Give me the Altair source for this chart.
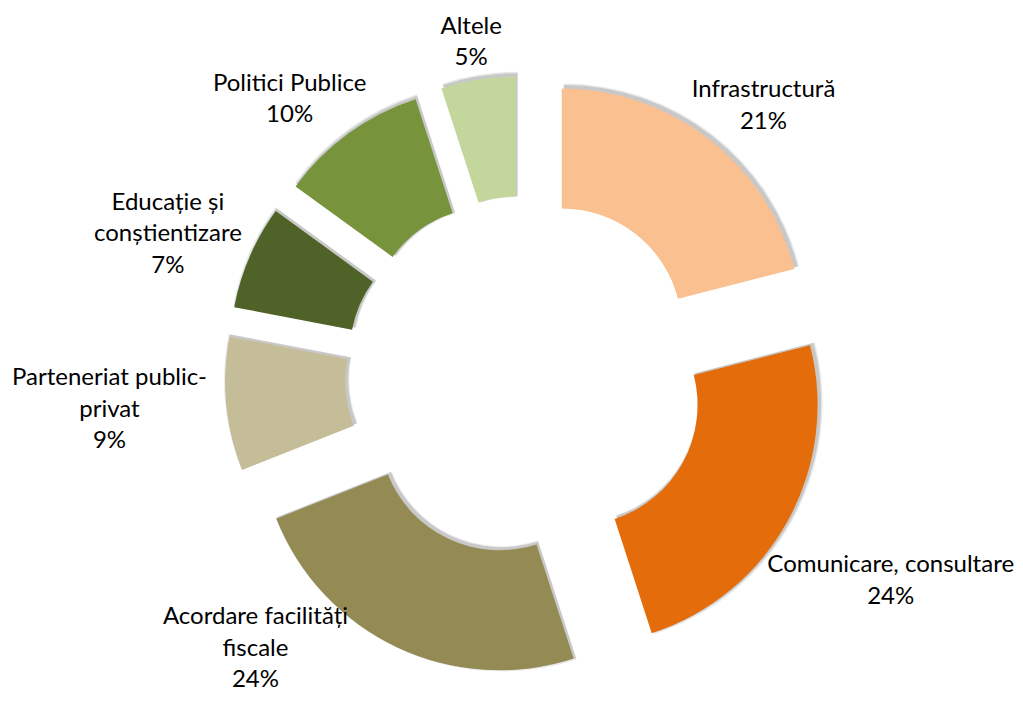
import math
import altair as alt
import pandas as pd

# ---- data ----
categories = [
    "Infrastructură",
    "Comunicare, consultare",
    "Acordare facilități fiscale",
    "Parteneriat public-privat",
    "Educație și conștientizare",
    "Politici Publice",
    "Altele",
]
label_lines = [
    ["Infrastructură"],
    ["Comunicare, consultare"],
    ["Acordare facilități", "fiscale"],
    ["Parteneriat public-", "privat"],
    ["Educație și", "conștientizare"],
    ["Politici Publice"],
    ["Altele"],
]
values = [21, 24, 24, 9, 7, 10, 5]
colors = ["#FAC090", "#E46C0A", "#948A54", "#C4BD97", "#4F6228", "#77933C", "#C3D69B"]

# ---- layout ----
W, H = 1007, 686
CX, CY = W / 2 + 13.5, H / 2 + 25
R_OUT, R_IN = 240, 120
EXPLODE = 60
LABEL_DIST = R_OUT + EXPLODE + 10
FONT_SIZE = 24
CHAR_W = 11.3
LINE_H = 31.5
FONT = "Lato"
BOTTOM = H + 2   # lowest pixel a label block may reach (plot coords)
TOP = 3          # highest pixel a label block may reach (plot coords)


def clamp(v, lo, hi):
    return max(lo, min(hi, v))


def hits_slice(lx, ly, text, cx, cy):
    """True if any text line's box overlaps the slice's outer circle."""
    n = len(text)
    for i, t in enumerate(text):
        yc = ly + (i - (n - 1) / 2) * LINE_H
        hwl = len(t) * CHAR_W / 2
        px = clamp(cx, lx - hwl, lx + hwl)
        py = clamp(cy, yc - FONT_SIZE / 2, yc + FONT_SIZE / 2)
        if math.hypot(px - cx, py - cy) < R_OUT:
            return True
    return False


total = sum(values)
rows = []
acc = 0.0
for cat, lines, v, col in zip(categories, label_lines, values, colors):
    t0 = acc / total * 2 * math.pi
    acc += v
    t1 = acc / total * 2 * math.pi
    mid = (t0 + t1) / 2
    s, c = math.sin(mid), -math.cos(mid)
    cx = CX + EXPLODE * s
    cy = CY + EXPLODE * c
    text = lines + [f"{v}%"]
    hw = max(len(t) for t in text) * CHAR_W / 2
    hh = len(text) * LINE_H / 2
    # label centre pushed outward by its half extents
    lx = clamp(CX + (LABEL_DIST + hw) * s, hw - 8, W - hw)
    ly = CY + (LABEL_DIST + hh) * c
    # push outward along the slice direction until the text clears the slice
    for _ in range(300):
        if not hits_slice(lx, ly, text, cx, cy):
            break
        lx = clamp(lx + s, hw - 8, W - hw)
        ly += c
    if ly + hh > BOTTOM:
        # slide the label along its orbit until it fits above the bottom edge
        cos_phi = (BOTTOM - hh - CY) / (LABEL_DIST + hh)
        phi = math.acos(clamp(cos_phi, -1, 1))
        sgn = 1 if s >= 0 else -1
        lx = CX + sgn * (LABEL_DIST + hw) * math.sin(phi)
        ly = BOTTOM - hh
    ly = max(ly, TOP + hh)
    lx = clamp(lx, hw - 8, W - hw)
    # Vega draws the first line at y: shift so the block is centred on ly
    ly_first = ly - (len(text) - 1) * LINE_H / 2
    rows.append(dict(cat=cat, value=v, t0=t0, t1=t1, cx=cx, cy=cy,
                     sx=cx + 2, sy=cy - 2, lx=lx, ly=ly_first, text=text))

df = pd.DataFrame(rows)

base = alt.Chart(df)

theta_enc = dict(theta=alt.Theta("t0:Q", scale=None), theta2="t1:Q")

shadow1 = base.mark_arc(radius=R_OUT + 3, radius2=R_IN - 2, color="#808080", opacity=0.18).encode(
    **theta_enc,
    x=alt.X("sx:Q", scale=None, axis=None),
    y=alt.Y("sy:Q", scale=None, axis=None),
)
shadow2 = base.mark_arc(radius=R_OUT + 1.5, radius2=R_IN - 1, color="#666666", opacity=0.25).encode(
    **theta_enc,
    x=alt.X("sx:Q", scale=None, axis=None),
    y=alt.Y("sy:Q", scale=None, axis=None),
)

arcs = base.mark_arc(radius=R_OUT, radius2=R_IN).encode(
    **theta_enc,
    x=alt.X("cx:Q", scale=None, axis=None),
    y=alt.Y("cy:Q", scale=None, axis=None),
    color=alt.Color("cat:N", scale=alt.Scale(domain=categories, range=colors), legend=None),
)

labels = base.mark_text(font=FONT, fontSize=FONT_SIZE, lineHeight=LINE_H, align="center",
                        baseline="middle", color="#000000").encode(
    x=alt.X("lx:Q", scale=None, axis=None),
    y=alt.Y("ly:Q", scale=None, axis=None),
    text="text:N",
)

chart = (
    alt.layer(shadow1, shadow2, arcs, labels)
    .properties(width=W, height=H, padding=0, autosize=alt.AutoSizeParams(type="none"))
    .configure_view(stroke=None)
)

chart.save("out.html", embed_options={"renderer": "svg", "actions": False})
